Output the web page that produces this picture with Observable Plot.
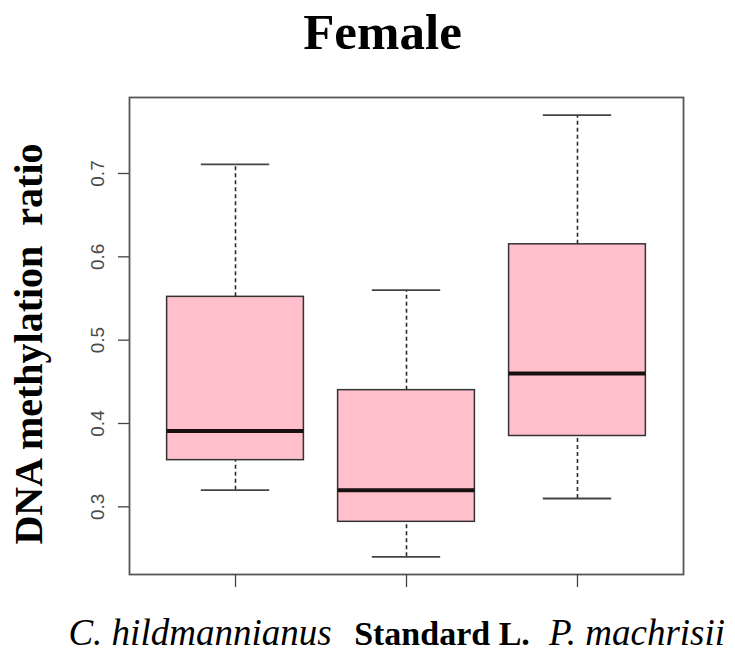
<!DOCTYPE html>
<html>
<head>
<meta charset="utf-8">
<script src="https://cdn.jsdelivr.net/npm/d3@7"></script>
<script src="https://cdn.jsdelivr.net/npm/@observablehq/plot@0.6"></script>
<style>
  body { margin: 0; background: #fff; width: 735px; height: 651px; overflow: hidden; position: relative; }
  #title { height: 80px; box-sizing: border-box; padding-top: 7px; padding-left: 30px; text-align: center;
           font-family: "Liberation Serif", "Times New Roman", serif; font-weight: bold; font-size: 51px; line-height: 51px; color: #000; }
  #groups { position: absolute; top: 605px; left: 0; width: 735px; height: 46px; }
  #groups span { position: absolute; transform: translateX(-50%); white-space: nowrap;
                 font-family: "Liberation Serif", "Times New Roman", serif; line-height: 32px; color: #000; }
</style>
</head>
<body>
<div id="title"></div>
<div id="chart"></div>
<div id="groups"></div>
<script>
// Summary statistics per group (box-and-whisker)
const categories = ["C. hildmannianus", "Standard L.", "P. machrisii"];
const whiskerLow  = [0.32, 0.24, 0.31];
const quartile1   = [0.356, 0.282, 0.385];
const medians     = [0.391, 0.32, 0.46];
const quartile3   = [0.552, 0.44, 0.615];
const whiskerHigh = [0.711, 0.56, 0.77];
const yTicks = [0.3, 0.4, 0.5, 0.6, 0.7];
const xTicks = [1, 2, 3];
const titleText = "Female";
const yLabel = "DNA methylation\u00a0 ratio";
const labelStyles = [
  {fontStyle: "italic", fontWeight: "normal", fontSize: 37},
  {fontStyle: "normal", fontWeight: "bold", fontSize: 34},
  {fontStyle: "italic", fontWeight: "normal", fontSize: 37}
];
const labelCenters = [200, 442, 637];

const rows = categories.map((name, i) => ({
  name, pos: i + 1,
  lo: whiskerLow[i], q1: quartile1[i], med: medians[i], q3: quartile3[i], hi: whiskerHigh[i]
}));

const boxHalf = 0.4, capHalf = 0.2;
const serif = "Liberation Serif, Times New Roman, serif";
const sans = "Liberation Sans, Arial, sans-serif";

document.getElementById("title").textContent = titleText;

const chart = Plot.plot({
  width: 735,
  height: 525,
  marginLeft: 129,
  marginRight: 52,
  marginTop: 17,
  marginBottom: 31,
  style: {background: "#fff", overflow: "visible", fontFamily: sans},
  x: {domain: [0.38, 3.62], label: null},
  y: {domain: [0.2188, 0.7912], label: null},
  marks: [
    // dashed whiskers
    Plot.ruleX(rows, {x: "pos", y1: "q3", y2: "hi", stroke: "#2a2a2a", strokeWidth: 1.6, strokeDasharray: "4,3"}),
    Plot.ruleX(rows, {x: "pos", y1: "lo", y2: "q1", stroke: "#2a2a2a", strokeWidth: 1.6, strokeDasharray: "4,3"}),
    // whisker caps
    Plot.ruleY(rows, {y: "hi", x1: d => d.pos - capHalf, x2: d => d.pos + capHalf, stroke: "#444", strokeWidth: 1.8}),
    Plot.ruleY(rows, {y: "lo", x1: d => d.pos - capHalf, x2: d => d.pos + capHalf, stroke: "#444", strokeWidth: 1.8}),
    // boxes
    Plot.rect(rows, {x1: d => d.pos - boxHalf, x2: d => d.pos + boxHalf, y1: "q1", y2: "q3",
                     fill: "#FFC0CB", stroke: "#333", strokeWidth: 1.5}),
    // medians
    Plot.ruleY(rows, {y: "med", x1: d => d.pos - boxHalf, x2: d => d.pos + boxHalf, stroke: "#1a1010", strokeWidth: 4}),
    Plot.frame({stroke: "#555", strokeWidth: 1.8}),
    Plot.axisY({ticks: yTicks, tickSize: 11, tickFormat: () => "", stroke: "#444", strokeWidth: 1.3, label: null}),
    Plot.axisX({ticks: xTicks, tickSize: 13, tickFormat: () => "", stroke: "#444", strokeWidth: 1.3, label: null}),
    // rotated tick labels
    Plot.text(yTicks, {y: d => d, text: d => d.toFixed(1), frameAnchor: "left", textAnchor: "middle",
                       dx: -32, rotate: -90, fontSize: 19, fill: "#4a4a4a", fontFamily: sans}),
    // axis title
    Plot.text([yLabel], {text: d => d, frameAnchor: "left", textAnchor: "middle", dx: -100, dy: 8, rotate: -90,
                         fontSize: 40, fontWeight: "bold", fontFamily: serif, fill: "#000"})
  ]
});
document.getElementById("chart").appendChild(chart);

// group names under the panel, sharing one baseline
const groups = document.getElementById("groups");
const baseline = 40, lineHeight = 32;
categories.forEach((name, i) => {
  const st = labelStyles[i];
  const s = document.createElement("span");
  s.textContent = name;
  s.style.left = labelCenters[i] + "px";
  s.style.top = (baseline - ((lineHeight - 1.107 * st.fontSize) / 2 + 0.891 * st.fontSize)) + "px";
  s.style.fontStyle = st.fontStyle;
  s.style.fontWeight = st.fontWeight;
  s.style.fontSize = st.fontSize + "px";
  groups.appendChild(s);
});
</script>
</body>
</html>
